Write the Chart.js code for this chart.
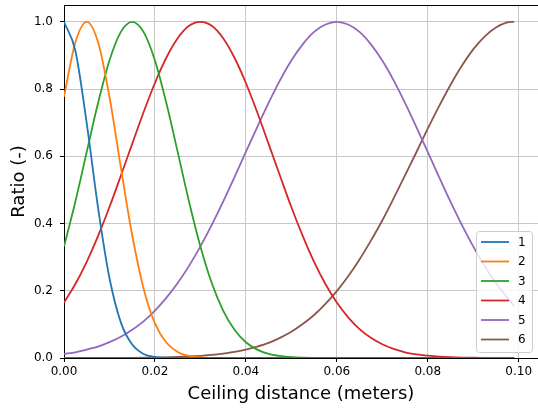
<!DOCTYPE html>
<html>
<head>
<meta charset="utf-8">
<script src="https://cdn.jsdelivr.net/npm/chart.js@4"></script>
<style>
  html, body { margin: 0; padding: 0; background: #fff; }
</style>
</head>
<body>
<canvas id="chart" width="538" height="409"></canvas>
<script>
// ceiling distance in meters (x values)
const distances = [0, 0.0025, 0.005, 0.0075, 0.01, 0.0125, 0.015, 0.0175, 0.02, 0.0225,
  0.025, 0.0275, 0.03, 0.0325, 0.035, 0.0375, 0.04, 0.0425, 0.045, 0.0475,
  0.05, 0.0525, 0.055, 0.0575, 0.06, 0.0625, 0.065, 0.0675, 0.07, 0.0725,
  0.075, 0.0775, 0.08, 0.0825, 0.085, 0.0875, 0.09, 0.0925, 0.095, 0.0975, 0.099]

const ratio1 = [1, 0.914, 0.698, 0.446, 0.238, 0.106, 0.040, 0.012, 0.003, 0.0007,
  0.0001, 0, 0, 0, 0, 0, 0, 0, 0, 0,
  0, 0, 0, 0, 0, 0, 0, 0, 0, 0,
  0, 0, 0, 0, 0, 0, 0, 0, 0, 0, 0]
const ratio2 = [0.777, 0.939, 1, 0.939, 0.777, 0.567, 0.365, 0.207, 0.103, 0.046,
  0.018, 0.006, 0.002, 0.0005, 0.0001, 0, 0, 0, 0, 0,
  0, 0, 0, 0, 0, 0, 0, 0, 0, 0,
  0, 0, 0, 0, 0, 0, 0, 0, 0, 0, 0]
const ratio3 = [0.332, 0.465, 0.613, 0.759, 0.885, 0.970, 1, 0.970, 0.885, 0.759,
  0.613, 0.465, 0.332, 0.223, 0.141, 0.084, 0.047, 0.025, 0.012, 0.006,
  0.0025, 0.001, 0.0004, 0.0001, 0, 0, 0, 0, 0, 0,
  0, 0, 0, 0, 0, 0, 0, 0, 0, 0, 0]
const ratio4 = [0.165, 0.220, 0.286, 0.363, 0.449, 0.542, 0.637, 0.731, 0.818, 0.893,
  0.951, 0.988, 1, 0.988, 0.951, 0.893, 0.818, 0.731, 0.637, 0.542,
  0.449, 0.363, 0.286, 0.220, 0.165, 0.121, 0.086, 0.060, 0.041, 0.027,
  0.017, 0.011, 0.007, 0.004, 0.0023, 0.0013, 0.0007, 0.0004, 0.0002, 0.0001, 0.0001]
const ratio5 = [0.012, 0.017, 0.025, 0.034, 0.047, 0.063, 0.084, 0.109, 0.141, 0.179,
  0.223, 0.274, 0.332, 0.396, 0.465, 0.538, 0.613, 0.687, 0.759, 0.826,
  0.885, 0.933, 0.970, 0.992, 1, 0.992, 0.970, 0.933, 0.885, 0.826,
  0.759, 0.687, 0.613, 0.538, 0.465, 0.396, 0.332, 0.274, 0.223, 0.179, 0.155]
const ratio6 = [0, 0.0001, 0.0001, 0.0001, 0.0002, 0.0004, 0.0006, 0.0009, 0.0013, 0.002,
  0.003, 0.0044, 0.0064, 0.009, 0.013, 0.018, 0.025, 0.034, 0.045, 0.060,
  0.078, 0.101, 0.128, 0.161, 0.199, 0.243, 0.293, 0.349, 0.409, 0.475,
  0.543, 0.612, 0.682, 0.749, 0.812, 0.869, 0.918, 0.956, 0.983, 0.998, 1]

const seriesNames = ['1', '2', '3', '4', '5', '6']
const seriesValues = [ratio1, ratio2, ratio3, ratio4, ratio5, ratio6]
const seriesColors = ['#1f77b4', '#ff7f0e', '#2ca02c', '#d62728', '#9467bd', '#8c564b']

const xTicks = [0, 0.02, 0.04, 0.06, 0.08, 0.10]
const yTicks = [0, 0.2, 0.4, 0.6, 0.8, 1.0]

const tickFont = { family: 'DejaVu Sans', size: 12 }
const titleFont = { family: 'DejaVu Sans', size: 18 }

let datasets = seriesValues.map((vals, i) => ({
    label: seriesNames[i],
    data: distances.map((d, j) => ({ x: d, y: vals[j] })),
    borderColor: seriesColors[i],
    backgroundColor: seriesColors[i],
    borderWidth: 1.8,
    pointRadius: 0,
    cubicInterpolationMode: 'monotone',
    fill: false
}))

// top spine, like matplotlib's frame
const frame = {
    id: 'frame',
    afterDraw(chart) {
        let { ctx, chartArea } = chart
        ctx.save()
        ctx.strokeStyle = '#000'
        ctx.lineWidth = 1
        ctx.beginPath()
        ctx.moveTo(chartArea.left, chartArea.top + 0.5)
        ctx.lineTo(chartArea.right, chartArea.top + 0.5)
        ctx.stroke()
        ctx.restore()
    }
}

// legend box in the lower right corner of the plot
const boxLegend = {
    id: 'boxLegend',
    afterDatasetsDraw(chart) {
        let ctx = chart.ctx
        let sets = chart.data.datasets
        let x0 = 476, y0 = 231, w = 56, h = 121
        ctx.save()
        ctx.beginPath()
        ctx.roundRect(x0 + 0.5, y0 + 0.5, w, h, 3)
        ctx.fillStyle = 'rgba(255,255,255,0.8)'
        ctx.fill()
        ctx.strokeStyle = '#cccccc'
        ctx.lineWidth = 1
        ctx.stroke()
        ctx.font = '12px "DejaVu Sans"'
        ctx.textBaseline = 'middle'
        ctx.fillStyle = '#000'
        sets.forEach((ds, i) => {
            let y = y0 + 11 + i * 19.5
            ctx.strokeStyle = ds.borderColor
            ctx.lineWidth = 1.8
            ctx.beginPath()
            ctx.moveTo(481, y)
            ctx.lineTo(509, y)
            ctx.stroke()
            ctx.fillText(ds.label, 518, y + 0.5)
        })
        ctx.restore()
    }
}

new Chart(document.getElementById('chart'), {
    type: 'line',
    data: { datasets: datasets },
    options: {
        responsive: false,
        animation: false,
        layout: { padding: { top: 5, right: -2, bottom: 0, left: 0 } },
        plugins: {
            legend: { display: false },
            tooltip: { enabled: false }
        },
        scales: {
            x: {
                type: 'linear',
                min: 0,
                max: 0.10425,
                afterBuildTicks: (scale) => { scale.ticks = xTicks.map(v => ({ value: v })) },
                afterFit: (scale) => { scale.height = 51; scale.paddingLeft = 0; scale.paddingRight = 0 },
                ticks: {
                    color: '#000',
                    font: tickFont,
                    padding: 3,
                    maxRotation: 0,
                    callback: (v) => v.toFixed(2)
                },
                grid: { color: '#c8c8c8', lineWidth: 1, tickColor: '#000', tickLength: 4 },
                border: { display: true, color: '#000', width: 1 },
                title: {
                    display: true,
                    text: 'Ceiling distance (meters)',
                    color: '#000',
                    font: titleFont,
                    padding: { top: 0, bottom: 4 }
                }
            },
            y: {
                type: 'linear',
                min: 0,
                max: 1.05,
                afterBuildTicks: (scale) => { scale.ticks = yTicks.map(v => ({ value: v })) },
                afterFit: (scale) => { scale.width = 64; scale.paddingTop = 0; scale.paddingBottom = 0 },
                ticks: {
                    color: '#000',
                    font: tickFont,
                    padding: 7,
                    callback: (v) => v.toFixed(1)
                },
                grid: { color: '#c8c8c8', lineWidth: 1, tickColor: '#000', tickLength: 4 },
                border: { display: true, color: '#000', width: 1 },
                title: {
                    display: true,
                    text: 'Ratio (-)',
                    color: '#000',
                    font: titleFont,
                    padding: { top: 8.6, bottom: 0 }
                }
            }
        }
    },
    plugins: [frame, boxLegend]
})
</script>
</body>
</html>
